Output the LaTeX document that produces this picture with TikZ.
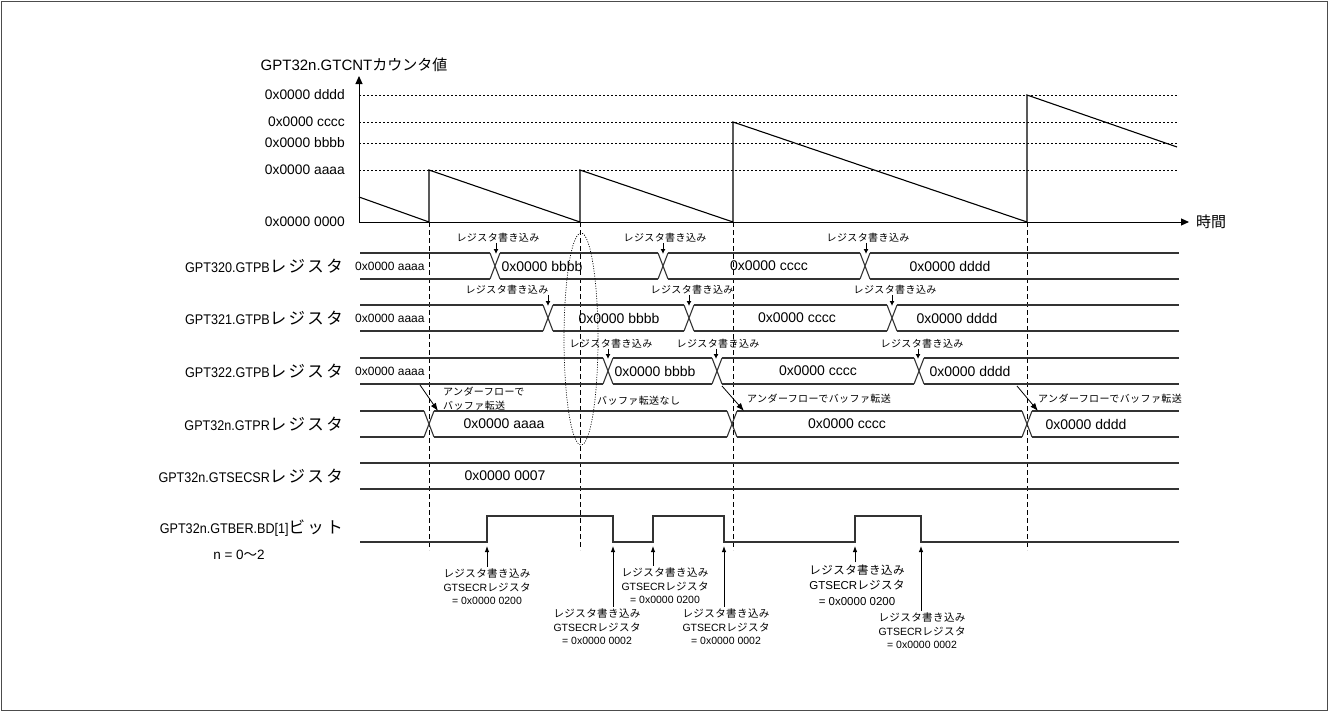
\documentclass[tikz,border=0pt]{standalone}
\usepackage{fontspec}
\usetikzlibrary{arrows.meta}
\setmainfont{Liberation Sans}
\newfontfamily\lblfont{Liberation Sans}[FakeStretch=0.9]
\newfontfamily\jpplain{Noto Sans CJK JP}
\newfontfamily\jpsmall{Noto Sans CJK JP}[LetterSpace=4]
\newfontfamily\jpwide{Noto Sans CJK JP}[LetterSpace=14]
\newcommand{\jpA}[1]{{\jpsmall #1}}
\newcommand{\jpW}[1]{{\fontsize{16.5}{18}\selectfont\jpwide #1}}
\newcommand{\jpP}[1]{{\jpplain #1}}
\newcommand{\busrow}[3]{%
  \foreach \xx [remember=\xx as \pp (initially 355)] in {#3,1184}{
    \draw[bus] (\pp+5,#1) -- (\xx-5,#1) (\pp+5,#2) -- (\xx-5,#2);}
  \foreach \xx in {#3}{
    \draw[bus] (\xx-5,#1) -- (\xx+5,#2) (\xx-5,#2) -- (\xx+5,#1);}
}
\tikzset{
  ax/.style={line width=1pt},
  gridln/.style={line width=0.9pt, dash pattern=on 2pt off 2pt},
  vdash/.style={line width=1pt, dash pattern=on 5pt off 3pt},
  bus/.style={line width=1.1pt, black!80},
  lbl/.style={anchor=east, inner sep=0pt, font=\fontsize{14}{17}\selectfont\lblfont},
  axl/.style={anchor=east, inner sep=0pt, font=\fontsize{13.8}{16}\selectfont},
  val/.style={inner sep=0pt, font=\fontsize{14}{16}\selectfont},
  sval/.style={anchor=west, inner sep=0pt, font=\fontsize{12}{14}\selectfont},
  ann/.style={inner sep=0pt, font=\fontsize{10}{12}\selectfont},
  note/.style={inner sep=2pt, align=center, font=\fontsize{10.5}{13.5}\selectfont},
  darr/.style={line width=1pt, -{Latex[length=5pt,width=5pt]}},
  diarr/.style={line width=0.8pt, -{Latex[length=8pt,width=6pt]}},
  uarr/.style={line width=0.9pt, -{Latex[length=6pt,width=4.5pt]}},
  axarr/.style={ax, -{Triangle[length=8pt,width=7pt]}},
}
\begin{document}
\begin{tikzpicture}[x=1pt,y=-1pt]
\useasboundingbox (0,0) rectangle (1329,712);
\draw[line width=1.2pt, black!70] (1.5,1.5) rectangle (1327.5,710.5);

% ---- counter chart ----
\node[inner sep=0pt, font=\fontsize{15}{17}\selectfont] (ttl) at (354,65) {GPT32n.GTCNT\jpP{カウンタ値}};
\coordinate (O) at (359,222);
\coordinate (Ytop) at (359,76);
\coordinate (Xend) at (1189,222);
\foreach \yy in {95,122,143,170}{\draw[gridln] (359,\yy) -- (1177,\yy);}
\draw[axarr] (O) -- (Ytop);
\draw[axarr] (O) -- (Xend);
\node[anchor=west, inner sep=0pt, font=\fontsize{15}{17}\selectfont] (tm) at (1196,222) {\jpP{時間}};
\node[axl] (ld) at (345,95) {0x0000 dddd};
\node[axl] (lc) at (345,122) {0x0000 cccc};
\node[axl] (lb) at (345,143) {0x0000 bbbb};
\node[axl] (la) at (345,170) {0x0000 aaaa};
\node[axl] (l0) at (345,222) {0x0000 0000};
\draw[line width=1.1pt] (359,197) -- (429,222) -- (429,170) -- (580,222) -- (580,170) -- (733,222)
  -- (733,122) -- (1027,222) -- (1027,95) -- (1177,147);
\foreach \xx in {429,580,733,1027}{\draw[vdash] (\xx,222) -- (\xx,550);}

% ---- row labels ----
\node[lbl] (r0) at (343,266) {GPT320.GTPB\jpW{レジスタ}};
\node[lbl] (r1) at (343,318) {GPT321.GTPB\jpW{レジスタ}};
\node[lbl] (r2) at (343,371) {GPT322.GTPB\jpW{レジスタ}};
\node[lbl] (r3) at (343,424) {GPT32n.GTPR\jpW{レジスタ}};
\node[lbl] (r4) at (343,476) {GPT32n.GTSECSR\jpW{レジスタ}};
\node[lbl] (r5) at (343,528) {GPT32n.GTBER.BD[1]\jpW{ビット}};
\node[inner sep=0pt, font=\fontsize{13.5}{16}\selectfont] (nrange) at (239,555) {n = 0\jpP{〜}2};

% ---- GPT320 ----
\busrow{253}{279}{495,663,865}
\node[sval] (v00) at (355,266) {0x0000 aaaa};
\node[val] (v01) at (542,266) {0x0000 bbbb};
\node[val] (v02) at (769,266) {0x0000 cccc};
\node[val] (v03) at (950,266) {0x0000 dddd};
\node[ann] (a01) at (498,238) {\jpA{レジスタ書き込み}};
\node[ann] (a02) at (665,238) {\jpA{レジスタ書き込み}};
\node[ann] (a03) at (868,238) {\jpA{レジスタ書き込み}};
\coordinate (c01) at (496,254);
\coordinate (c02) at (663,254);
\coordinate (c03) at (866,254);
\draw[darr] (a01.south -| c01) -- (c01);
\draw[darr] (a02.south -| c02) -- (c02);
\draw[darr] (a03.south -| c03) -- (c03);

% ---- GPT321 ----
\busrow{305}{331}{548,689,892}
\node[sval] (v10) at (355,318) {0x0000 aaaa};
\node[val] (v11) at (619,318) {0x0000 bbbb};
\node[val] (v12) at (797,318) {0x0000 cccc};
\node[val] (v13) at (957,318) {0x0000 dddd};
\node[ann] (a11) at (507,290) {\jpA{レジスタ書き込み}};
\node[ann] (a12) at (692,290) {\jpA{レジスタ書き込み}};
\node[ann] (a13) at (895,290) {\jpA{レジスタ書き込み}};
\coordinate (c11) at (548,306);
\coordinate (c12) at (689,306);
\coordinate (c13) at (892,306);
\draw[darr] (a11.south -| c11) -- (c11);
\draw[darr] (a12.south -| c12) -- (c12);
\draw[darr] (a13.south -| c13) -- (c13);

% ---- GPT322 ----
\busrow{358}{384}{608,717,919}
\node[sval] (v20) at (355,371) {0x0000 aaaa};
\node[val] (v21) at (655,371) {0x0000 bbbb};
\node[val] (v22) at (818,371) {0x0000 cccc};
\node[val] (v23) at (970,371) {0x0000 dddd};
\node[ann] (a21) at (611,344) {\jpA{レジスタ書き込み}};
\node[ann] (a22) at (718,344) {\jpA{レジスタ書き込み}};
\node[ann] (a23) at (922,344) {\jpA{レジスタ書き込み}};
\coordinate (c21) at (608,359);
\coordinate (c22) at (716,359);
\coordinate (c23) at (918,359);
\draw[darr] (a21.south -| c21) -- (c21);
\draw[darr] (a22.south -| c22) -- (c22);
\draw[darr] (a23.south -| c23) -- (c23);

% ---- GTPR ----
\busrow{411}{437}{429,732,1027}
\node[val] (v31) at (504,424) {0x0000 aaaa};
\node[val] (v32) at (847,424) {0x0000 cccc};
\node[val] (v33) at (1086,424) {0x0000 dddd};
\node[ann, anchor=west, align=left, font=\fontsize{10}{14}\selectfont] (u1) at (443,399) {\jpA{アンダーフローで}\\\jpA{バッファ転送}};
\node[ann, anchor=west] (u2) at (597,401) {\jpA{バッファ転送なし}};
\node[ann, anchor=west] (u3) at (747,399) {\jpA{アンダーフローでバッファ転送}};
\node[ann, anchor=west] (u4) at (1038,399) {\jpA{アンダーフローでバッファ転送}};
\coordinate (d1s) at (420,385); \coordinate (d1e) at (438,411);
\coordinate (d3s) at (722,386); \coordinate (d3e) at (744,411);
\coordinate (d4s) at (1017,386); \coordinate (d4e) at (1038,411);
\draw[diarr] (d1s) -- (d1e);
\draw[diarr] (d3s) -- (d3e);
\draw[diarr] (d4s) -- (d4e);

% ---- GTSECSR ----
\draw[bus] (360,463) -- (1179,463) (360,489) -- (1179,489);
\node[val] (v41) at (505,476) {0x0000 0007};

% ---- GTBER ----
\draw[bus] (360,542) -- (487,542) -- (487,516) -- (613,516) -- (613,542) -- (653,542)
  -- (653,516) -- (724,516) -- (724,542) -- (855,542) -- (855,516) -- (921,516) -- (921,542) -- (1179,542);
\node[note] (n1) at (487,587) {\jpA{レジスタ書き込み}\\GTSECR\jpA{レジスタ}\\= 0x0000 0200};
\node[note] (n2) at (597,627) {\jpA{レジスタ書き込み}\\GTSECR\jpA{レジスタ}\\= 0x0000 0002};
\node[note] (n3) at (665,586) {\jpA{レジスタ書き込み}\\GTSECR\jpA{レジスタ}\\= 0x0000 0200};
\node[note] (n4) at (726,627) {\jpA{レジスタ書き込み}\\GTSECR\jpA{レジスタ}\\= 0x0000 0002};
\node[note, font=\fontsize{11.5}{15.5}\selectfont] (n5) at (857,585) {\jpA{レジスタ書き込み}\\GTSECR\jpA{レジスタ}\\= 0x0000 0200};
\node[note] (n6) at (922,631) {\jpA{レジスタ書き込み}\\GTSECR\jpA{レジスタ}\\= 0x0000 0002};
\coordinate (t1) at (487,546);
\coordinate (t2) at (613,546);
\coordinate (t3) at (653,546);
\coordinate (t4) at (724,546);
\coordinate (t5) at (855,546);
\coordinate (t6) at (921,546);
\draw[uarr] (n1.north -| t1) -- (t1);
\draw[uarr] (n2.north -| t2) -- (t2);
\draw[uarr] (n3.north -| t3) -- (t3);
\draw[uarr] (n4.north -| t4) -- (t4);
\draw[uarr] (n5.north -| t5) -- (t5);
\draw[uarr] (n6.north -| t6) -- (t6);

% ---- dotted oval ----
\draw[line width=0.7pt, dash pattern=on 1pt off 1.5pt] (581,339) ellipse [x radius=17pt, y radius=106pt];
\end{tikzpicture}
\end{document}
